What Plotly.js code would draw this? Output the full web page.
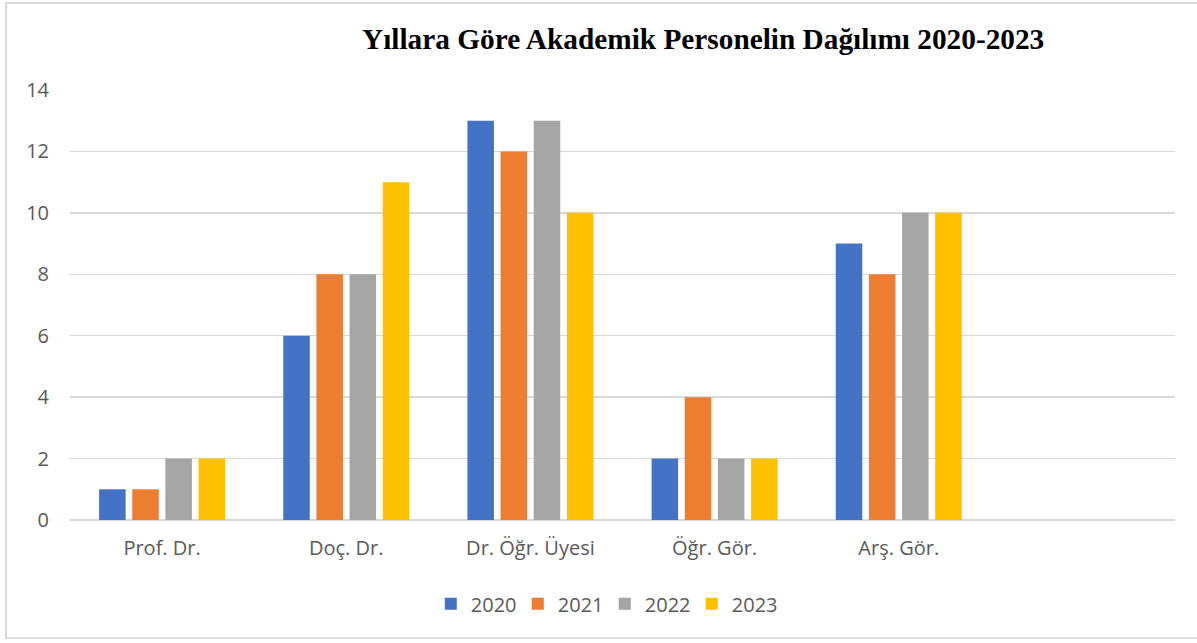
<!DOCTYPE html>
<html>
<head>
<meta charset="utf-8">
<script src="https://cdn.plot.ly/plotly-3.0.1.min.js"></script>
<style>
  html, body { margin: 0; padding: 0; background: #fff; overflow: hidden; }
  #frame { position: absolute; left: 5px; top: 2px; width: 1200px; height: 637px; border: 2px solid #d9d9d9; box-sizing: border-box; pointer-events: none; z-index: 5; }
  #chart { position: absolute; left: 0; top: 0; width: 1197px; height: 643px; }
</style>
</head>
<body>
<div id="chart"></div>
<div id="frame"></div>
<script>
const categories = ['Prof. Dr.', 'Doç. Dr.', 'Dr. Öğr. Üyesi', 'Öğr. Gör.', 'Arş. Gör.'];
const years = ['2020', '2021', '2022', '2023'];
const v2020 = [1, 6, 13, 2, 9];
const v2021 = [1, 8, 12, 4, 8];
const v2022 = [2, 8, 13, 2, 10];
const v2023 = [2, 11, 10, 2, 10];
const colors = ['#4472C4', '#ED7D31', '#A5A5A5', '#FFC000'];
const titleText = 'Yıllara Göre Akademik Personelin Dağılımı 2020-2023';

const seriesValues = [v2020, v2021, v2022, v2023];
const traces = years.map((y, i) => ({
  type: 'bar',
  name: y,
  x: categories,
  y: seriesValues[i],
  marker: { color: colors[i] },
  hoverinfo: 'x+y+name'
}));

const tickFont = { family: 'Open Sans, sans-serif', size: 20, color: '#595959' };

const layout = {
  width: 1197,
  height: 643,
  margin: { l: 70, r: 22, t: 90, b: 123 },
  paper_bgcolor: '#ffffff',
  plot_bgcolor: '#ffffff',
  barmode: 'group',
  bargap: 0.28,
  bargroupgap: 0.2,
  title: {
    text: '<b>' + titleText + '</b>',
    font: { family: 'Liberation Serif, Times New Roman, serif', size: 29.3, color: '#000000' },
    xref: 'paper', x: 0.573, xanchor: 'center',
    yref: 'container', y: 0.94, yanchor: 'middle'
  },
  xaxis: {
    type: 'category',
    range: [-0.5, 5.5],
    showgrid: false,
    showline: false,
    zeroline: false,
    ticks: '',
    tickfont: tickFont,
    ticklabelstandoff: 14,
    fixedrange: true
  },
  yaxis: {
    range: [0, 14],
    dtick: 2,
    showgrid: true,
    gridcolor: '#d9d9d9',
    gridwidth: 1.3,
    zeroline: true,
    zerolinecolor: '#d9d9d9',
    zerolinewidth: 1.6,
    showline: false,
    ticks: '',
    tickfont: tickFont,
    ticklabelstandoff: 20,
    fixedrange: true
  },
  showlegend: true,
  legend: {
    orientation: 'h',
    x: 0.3265, xanchor: 'left',
    y: -0.195, yanchor: 'middle',
    font: tickFont,
    entrywidth: 42,
    entrywidthmode: 'pixels',
    itemclick: false,
    itemdoubleclick: false,
    bgcolor: 'rgba(0,0,0,0)'
  }
};

Plotly.newPlot('chart', traces, layout, { displayModeBar: false, staticPlot: true });
</script>
</body>
</html>
